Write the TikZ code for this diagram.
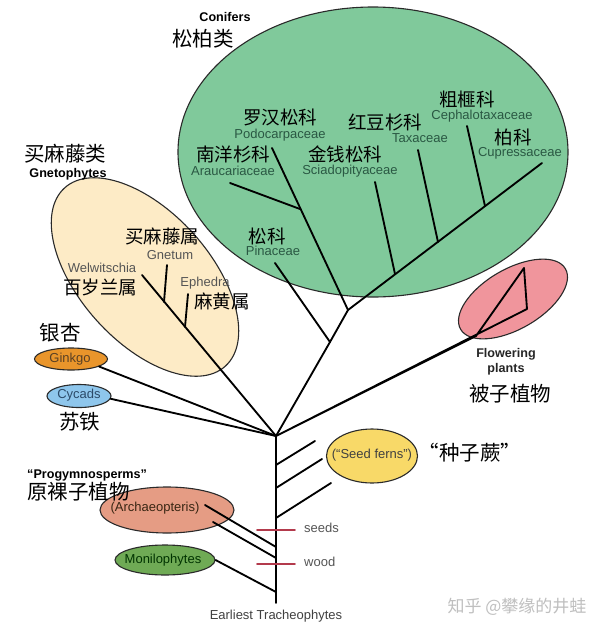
\documentclass[tikz,border=0pt]{standalone}
\usepackage{fontspec}
\setmainfont{Liberation Sans}
\newfontfamily\cjk{Noto Sans CJK SC}
\usepackage{xcolor}
\usepackage{tikz}
\usetikzlibrary{positioning,shapes.geometric}
\definecolor{conifgreen}{HTML}{80C99B}
\definecolor{gnetocream}{HTML}{FDEBC6}
\definecolor{ginkgoorange}{HTML}{E9952B}
\definecolor{cycadblue}{HTML}{8EC6EC}
\definecolor{flowerpink}{HTML}{F0959C}
\definecolor{seedyellow}{HTML}{F8D968}
\definecolor{archsalmon}{HTML}{E59C84}
\definecolor{monigreen}{HTML}{6FAA55}
\definecolor{barred}{HTML}{B33A4C}
\definecolor{famtext}{HTML}{2A5843}
\definecolor{greytext}{HTML}{555555}
\definecolor{rimgrey}{HTML}{2A2A2A}
\definecolor{ginkgotext}{HTML}{5A4024}
\definecolor{cycadtext}{HTML}{2C4A68}
\tikzset{
    every picture/.style={line cap=round,line join=round},
    clade/.style={draw=rimgrey,ellipse,line width=1.1pt,inner sep=0pt},
    cnlab/.style={font=\cjk\fontsize{18.5}{20}\selectfont,inner sep=0pt,
      text height=15pt,text depth=2.5pt},
    cnbig/.style={cnlab,font=\cjk\fontsize{20.5}{22}\selectfont,
      text height=16.5pt,text depth=2.8pt},
    enlab/.style={font=\fontsize{13}{15}\selectfont,inner sep=0pt,
      text height=9.5pt,text depth=2.5pt},
    grouplab/.style={font=\bfseries\fontsize{12.6}{15}\selectfont,inner sep=0pt,
      align=center},
    branch/.style={draw=black,line width=1.85pt},
    markbar/.style={draw=barred,line width=1.7pt}
}

\begin{document}
\begin{tikzpicture}[x=1pt,y=-1pt]
  \useasboundingbox[fill=white] (0,0) rectangle (600,635);
  % clades
  \node[clade,fill=conifgreen,minimum width=390pt,minimum height=290pt] (conif) at (373,152) {};
  \node[clade,fill=gnetocream,minimum width=240pt,minimum height=130pt,rotate=-48] (gneto) at (145,277) {};
  \node[clade,fill=flowerpink,minimum width=121pt,minimum height=60pt,rotate=30] (flow) at (513,299) {};
  \node[clade,fill=ginkgoorange,minimum width=73pt,minimum height=22pt] (ginkgo) at (71,359) {};
  \node[clade,fill=cycadblue,minimum width=64pt,minimum height=23pt] (cycad) at (79,396) {};
  \node[clade,fill=seedyellow,minimum width=91pt,minimum height=54pt] (seedf) at (372,456) {};
  \node[clade,fill=archsalmon,minimum width=134pt,minimum height=46pt] (arch) at (167,510) {};
  \node[clade,fill=monigreen,minimum width=100pt,minimum height=30pt] (moni) at (165,560) {};

  % tree points
  \coordinate (base) at (276,603);
  \coordinate (fork) at (276,436);
  \coordinate (pinaJ) at (330,342);
  \coordinate (conifJ) at (348,310);
  \coordinate (arauJ) at (300,209);
  \coordinate (podoT) at (272,148);
  \coordinate (arauT) at (230,183);
  \coordinate (pinaT) at (275,263);
  \coordinate (sciaT) at (375,182);
  \coordinate (sciaJ) at (395,274);
  \coordinate (taxT) at (418,150);
  \coordinate (taxJ) at (438,242);
  \coordinate (cephT) at (467,126);
  \coordinate (cephJ) at (485,206);
  \coordinate (cuprT) at (542,163);
  \coordinate (flowJ) at (476,336);
  \coordinate (flowA) at (524,268);
  \coordinate (flowB) at (527,309);
  \coordinate (welwT) at (142,275);
  \coordinate (gnetT) at (167,265);
  \coordinate (gnetJ) at (164,302);
  \coordinate (ephT) at (188,294);
  \coordinate (ephJ) at (185,327);
  \coordinate (sfJ1) at (276,465);
  \coordinate (sfT1) at (315,441);
  \coordinate (sfJ2) at (276,488);
  \coordinate (sfT2) at (322,459);
  \coordinate (sfJ3) at (276,518);
  \coordinate (sfT3) at (331,483);
  \coordinate (archT1) at (205,505);
  \coordinate (archJ1) at (276,547);
  \coordinate (archT2) at (213,522);
  \coordinate (archJ2) at (276,558);
  \coordinate (moniJ) at (276,592);
  \coordinate (seedsL) at (257,530);
  \coordinate (seedsR) at (295,530);
  \coordinate (woodL) at (257,564);
  \coordinate (woodR) at (295,564);

  % branches
  \draw[branch] (base)--(fork);
  \draw[branch] (fork)--(pinaJ)--(conifJ)--(podoT);
  \draw[branch] (arauT)--(arauJ);
  \draw[branch] (pinaT)--(pinaJ);
  \draw[branch] (conifJ)--(cuprT);
  \draw[branch] (sciaT)--(sciaJ);
  \draw[branch] (taxT)--(taxJ);
  \draw[branch] (cephT)--(cephJ);
  \draw[branch] (fork)--(flowJ)--(flowA)--(flowB)--cycle;
  \draw[branch] (fork)--(welwT);
  \draw[branch] (gnetT)--(gnetJ);
  \draw[branch] (ephT)--(ephJ);
  \draw[branch] (fork)--(ginkgo.-15);
  \draw[branch] (fork)--(cycad.-5);
  \draw[branch] (sfJ1)--(sfT1);
  \draw[branch] (sfJ2)--(sfT2);
  \draw[branch] (sfJ3)--(sfT3);
  \draw[branch] (archT1)--(archJ1);
  \draw[branch] (archT2)--(archJ2);
  \draw[branch] (moni.east)--(moniJ);
  \draw[markbar] (seedsL)--(seedsR);
  \draw[markbar] (woodL)--(woodR);

  % conifers
  \node[grouplab] (conifEN) at (225,17) {Conifers};
  \node[cnbig] (conifCN) at (203,40) {松柏类};
  \node[cnlab] (podoCN) at (280,118) {罗汉松科};
  \node[enlab,text=famtext,below=2pt of podoCN] (podo) {Podocarpaceae};
  \node[cnlab] (arauCN) at (233,155) {南洋杉科};
  \node[enlab,text=famtext,below=2pt of arauCN] (arau) {Araucariaceae};
  \node[cnlab] (sciaCN) at (345,155) {金钱松科};
  \node[enlab,text=famtext] (scia) at (350,171) {Sciadopityaceae};
  \node[cnlab] (taxCN) at (385,123) {红豆杉科};
  \node[enlab,text=famtext] (tax) at (420,139) {Taxaceae};
  \node[cnlab] (cephCN) at (467,100) {粗榧科};
  \node[enlab,text=famtext] (ceph) at (482,116) {Cephalotaxaceae};
  \node[cnlab] (cuprCN) at (513,138) {柏科};
  \node[enlab,text=famtext] (cupr) at (520,153) {Cupressaceae};
  \node[cnlab] (pinaCN) at (267,237) {松科};
  \node[enlab,text=famtext] (pina) at (273,252) {Pinaceae};

  % gnetophytes
  \node[cnbig] (gnetoCN) at (65,155) {买麻藤类};
  \node[grouplab] (gnetoEN) at (68,174) {Gnetophytes};
  \node[cnlab] (gnetCN) at (162,237) {买麻藤属};
  \node[enlab,text=greytext] (gnet) at (170,256) {Gnetum};
  \node[enlab,text=greytext] (welw) at (102,269) {Welwitschia};
  \node[cnlab] (welwCN) at (100,288) {百岁兰属};
  \node[enlab,text=greytext] (eph) at (205,283) {Ephedra};
  \node[cnlab] (ephCN) at (222,302) {麻黄属};

  % small clades
  \node[cnbig] (ginkgoCN) at (60,334) {银杏};
  \node[enlab,text=ginkgotext] (ginkgoEN) at (70,359) {Ginkgo};
  \node[enlab,text=cycadtext] (cycadEN) at (79,395) {Cycads};
  \node[cnbig] (cycadCN) at (80,423) {苏铁};
  \node[grouplab,text=black!85] (flowEN) at (506,362) {Flowering\\plants};
  \node[cnbig] (flowCN) at (510,395) {被子植物};
  \node[enlab,text=black!75] (seedfEN) at (372,455) {(“Seed ferns”)};
  \node[cnbig] (seedfCN) at (470,454) {“种子蕨”};
  \node[grouplab,anchor=west] (progEN) at (27,475) {“Progymnosperms”};
  \node[cnbig,anchor=west] (progCN) at (27,493) {原裸子植物};
  \node[enlab,text=black!70!brown] (archEN) at (155,508) {(Archaeopteris)};
  \node[enlab,text=black!80!green] (moniEN) at (163,560) {Monilophytes};
  \node[enlab,anchor=west,text=greytext] (seeds) at (304,529) {seeds};
  \node[enlab,anchor=west,text=greytext] (wood) at (304,563) {wood};
  \node[enlab,text=black!75] (earliest) at (276,616) {Earliest Tracheophytes};
  \node[font=\cjk\fontsize{17}{19}\selectfont,text=black!25,inner sep=0pt] (zhihu) at (517,607) {知乎 @攀缘的井蛙};
\end{tikzpicture}
\end{document}
